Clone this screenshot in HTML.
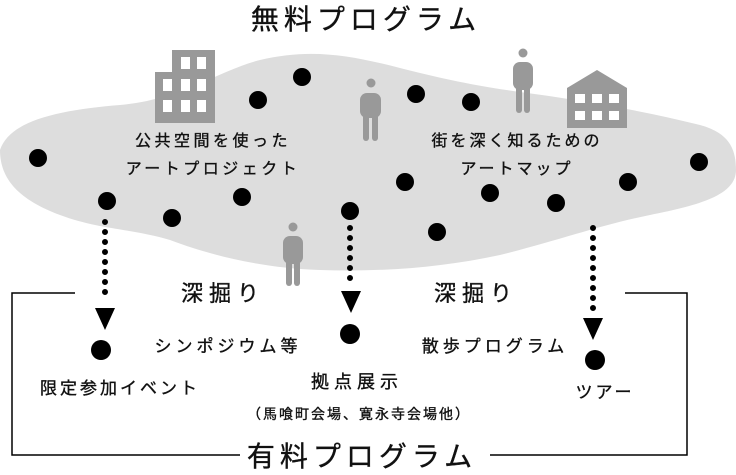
<!DOCTYPE html>
<html><head><meta charset="utf-8"><style>
html,body{margin:0;padding:0;background:#fff;}
svg{display:block;}
text{font-family:"Liberation Sans","Noto Sans CJK JP",sans-serif;fill:#111;stroke:#111;stroke-width:0.35px;}
</style></head><body>
<svg width="736" height="475" viewBox="0 0 736 475" xmlns="http://www.w3.org/2000/svg">
<path d="M0,150 C10,120 60,110 120,105 C180,100 220,70 260,60 C310,48 350,55 400,68 C440,78 470,85 520,92 C580,100 640,110 700,125 C730,133 736,150 736,170 C736,195 700,205 650,215 C600,225 560,240 500,255 C440,268 380,272 320,270 C260,268 210,255 170,240 C130,228 100,230 60,215 C20,200 0,180 0,150 Z" fill="#dddddd"/>
<g fill="#999">
<rect x="172" y="50" width="43" height="73"/><rect x="155" y="72" width="20" height="51"/>
<polygon points="567,88 597,70 627,88 627,128 567,128"/>
<circle cx="371" cy="83" r="4.5"/><rect x="360" y="93" width="21" height="25" rx="7"/><rect x="363" y="112" width="6" height="29" rx="3"/><rect x="372" y="112" width="6" height="29" rx="3"/>
<circle cx="523" cy="53" r="4.5"/><rect x="513" y="62" width="20" height="28" rx="7"/><rect x="516" y="85" width="6" height="28" rx="3"/><rect x="524" y="85" width="6" height="28" rx="3"/>
<circle cx="293" cy="227" r="4.5"/><rect x="283" y="236" width="20" height="28" rx="7"/><rect x="286" y="258" width="6" height="28" rx="3"/><rect x="294" y="258" width="6" height="28" rx="3"/>
</g>
<g fill="#fff">
<rect x="181" y="57" width="9" height="12"/><rect x="197" y="57" width="9" height="12"/>
<rect x="163" y="79" width="9" height="12"/><rect x="181" y="79" width="9" height="12"/><rect x="197" y="79" width="9" height="12"/>
<rect x="163" y="100" width="9" height="12"/><rect x="181" y="100" width="9" height="12"/><rect x="197" y="100" width="9" height="12"/>
<rect x="575" y="94" width="10" height="9"/><rect x="592" y="94" width="10" height="9"/><rect x="609" y="94" width="10" height="9"/>
<rect x="575" y="111" width="10" height="9"/><rect x="592" y="111" width="10" height="9"/><rect x="609" y="111" width="10" height="9"/>
</g>
<g fill="#000">
<circle cx="38" cy="158" r="9"/><circle cx="107" cy="201" r="9"/><circle cx="172" cy="218" r="9"/><circle cx="242" cy="197" r="9"/>
<circle cx="258" cy="100" r="9"/><circle cx="302" cy="77" r="9"/><circle cx="350" cy="211" r="9"/><circle cx="416" cy="94" r="9"/>
<circle cx="471" cy="102" r="9"/><circle cx="405" cy="182" r="9"/><circle cx="437" cy="232" r="9"/><circle cx="490" cy="193" r="9"/>
<circle cx="556" cy="203" r="9"/><circle cx="628" cy="182" r="9"/><circle cx="699" cy="162" r="9"/>
<circle cx="101" cy="350" r="10"/><circle cx="350" cy="334" r="10"/><circle cx="595" cy="360" r="10"/>
<polygon points="95,308 115,308 105,330"/><polygon points="341,291 361,291 351,313"/><polygon points="583,318 603,318 593,340"/>
</g>
<g stroke="#000" stroke-width="6" stroke-linecap="round" stroke-dasharray="0 10">
<line x1="105" y1="222" x2="105" y2="302"/>
<line x1="350" y1="228" x2="350" y2="286"/>
<line x1="593" y1="228" x2="593" y2="312"/>
</g>
<g stroke="#000" stroke-width="1.5" fill="none">
<polyline points="75,293 12,293 12,455 240,455"/>
<polyline points="625,293 687,293 687,455 490,455"/>
</g>
<text x="366" y="29" font-size="28" text-anchor="middle" letter-spacing="5">無料プログラム</text>
<text x="213" y="146" font-size="16" text-anchor="middle" letter-spacing="3.5">公共空間を使った</text>
<text x="213" y="174" font-size="16" text-anchor="middle" letter-spacing="3.5">アートプロジェクト</text>
<text x="517" y="146" font-size="16" text-anchor="middle" letter-spacing="3">街を深く知るための</text>
<text x="517" y="174" font-size="16" text-anchor="middle" letter-spacing="3">アートマップ</text>
<text x="223" y="301" font-size="22" text-anchor="middle" letter-spacing="6">深掘り</text>
<text x="476" y="301" font-size="22" text-anchor="middle" letter-spacing="6">深掘り</text>
<text x="228" y="352" font-size="17" text-anchor="middle" letter-spacing="4">シンポジウム等</text>
<text x="495" y="352" font-size="17" text-anchor="middle" letter-spacing="4">散歩プログラム</text>
<text x="120" y="394" font-size="17" text-anchor="middle" letter-spacing="3">限定参加イベント</text>
<text x="357" y="388" font-size="18" text-anchor="middle" letter-spacing="5">拠点展示</text>
<text x="359" y="419" font-size="14" text-anchor="middle" letter-spacing="2">（馬喰町会場、寛永寺会場他）</text>
<text x="605" y="398" font-size="17" text-anchor="middle" letter-spacing="3">ツアー</text>
<text x="362" y="466" font-size="28" text-anchor="middle" letter-spacing="5">有料プログラム</text>
</svg>
</body></html>
